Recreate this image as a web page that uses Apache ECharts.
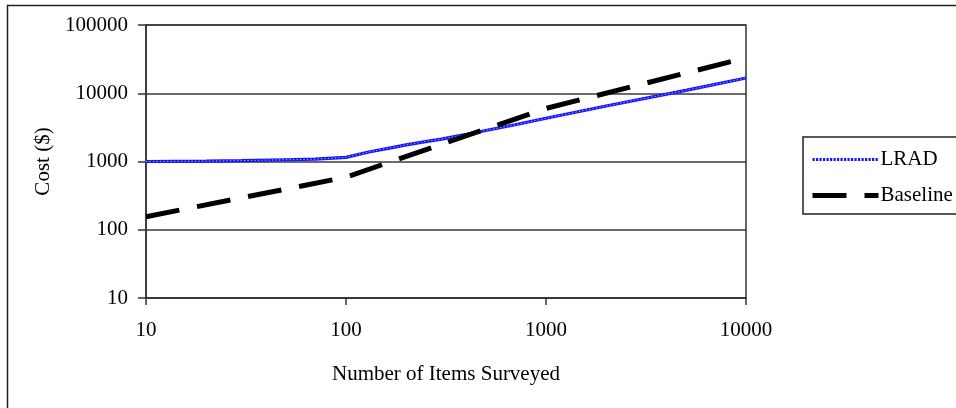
<!DOCTYPE html>
<html>
<head>
<meta charset="utf-8">
<script src="https://cdn.jsdelivr.net/npm/echarts@6/dist/echarts.min.js"></script>
<style>
  html, body { margin: 0; padding: 0; background: #fff; }
  #chart { width: 956px; height: 408px; }
</style>
</head>
<body>
<div id="chart"></div>
<script>
// Survey cost versus number of items surveyed (log-log)
const lradItems = [10, 20, 30, 50, 70, 100, 130, 170, 200, 250, 300, 400, 500, 700, 1000, 2000, 5000, 10000];
const lradCost  = [1000, 1010, 1030, 1060, 1080, 1150, 1380, 1600, 1750, 1960, 2130, 2500, 2850, 3450, 4300, 6500, 11000, 16700];

const baselineItems = [10, 100, 1000, 10000];
const baselineCost  = [155, 590, 6000, 33000];

const xTicks = [10, 100, 1000, 10000];
const yTicks = [10, 100, 1000, 10000, 100000];

const seriesNames = ['LRAD', 'Baseline'];
const xTitle = 'Number of Items Surveyed';
const yTitle = 'Cost ($)';

const FONT = '"Liberation Serif", "Times New Roman", serif';
const LRAD_BLUE = '#1414ff';
const pairs = (xs, ys) => xs.map((x, i) => [x, ys[i]]);
const plain = v => String(Math.round(v));

const chart = echarts.init(document.getElementById('chart'), null, { renderer: 'canvas' });

chart.setOption({
  animation: false,
  backgroundColor: '#ffffff',
  graphic: [
    {
      type: 'rect',
      shape: { x: 7.5, y: 5.5, width: 1200, height: 600 },
      style: { fill: 'none', stroke: '#222', lineWidth: 1.5 },
      silent: true
    }
  ],
  grid: {
    left: 146, right: 210, top: 25, bottom: 110,
    show: true,
    borderColor: '#333',
    borderWidth: 1.5,
    backgroundColor: 'transparent'
  },
  legend: {
    show: true,
    orient: 'vertical',
    left: 803,
    top: 137,
    padding: [12, 24, 8, 7],
    itemGap: 15,
    itemWidth: 66,
    itemHeight: 20,
    borderColor: '#222',
    borderWidth: 1.5,
    borderRadius: 0,
    textStyle: { fontFamily: FONT, fontSize: 21, color: '#000', padding: [0, 0, 0, -3] },
    data: [
      {
        name: seriesNames[0],
        itemStyle: { opacity: 0 },
        lineStyle: { width: 3, color: LRAD_BLUE, type: [2.2, 1.3] }
      },
      {
        name: seriesNames[1],
        itemStyle: { opacity: 0 },
        lineStyle: { width: 5, color: '#000', type: [34, 18] }
      }
    ]
  },
  xAxis: {
    type: 'log',
    logBase: 10,
    min: xTicks[0],
    max: xTicks[xTicks.length - 1],
    name: xTitle,
    nameLocation: 'middle',
    nameGap: 66,
    nameTextStyle: { fontFamily: FONT, fontSize: 21, color: '#000' },
    axisLine: { show: true, lineStyle: { color: '#333', width: 1.5 } },
    axisTick: { show: true, length: 7, lineStyle: { color: '#333', width: 1.5 } },
    axisLabel: { fontFamily: FONT, fontSize: 21, color: '#000', margin: 22, formatter: plain },
    splitLine: { show: false }
  },
  yAxis: {
    type: 'log',
    logBase: 10,
    min: yTicks[0],
    max: yTicks[yTicks.length - 1],
    name: yTitle,
    nameLocation: 'middle',
    nameGap: 90,
    nameTextStyle: { fontFamily: FONT, fontSize: 21, color: '#000' },
    axisLine: { show: true, lineStyle: { color: '#333', width: 1.5 } },
    axisTick: { show: true, length: 8, lineStyle: { color: '#333', width: 1.5 } },
    axisLabel: { fontFamily: FONT, fontSize: 21, color: '#000', margin: 18, formatter: plain },
    splitLine: { show: true, lineStyle: { color: '#3a3a3a', width: 1.5 } }
  },
  series: [
    {
      name: seriesNames[0],
      type: 'line',
      data: pairs(lradItems, lradCost),
      symbol: 'none',
      lineStyle: { color: LRAD_BLUE, width: 3.2 },
      z: 2
    },
    {
      // light beads inside the LRAD stroke
      name: seriesNames[0],
      type: 'line',
      data: pairs(lradItems, lradCost),
      symbol: 'none',
      lineStyle: { color: '#ffffff', width: 1, type: [1.2, 2.3], opacity: 0.7 },
      z: 3
    },
    {
      name: seriesNames[1],
      type: 'line',
      data: pairs(baselineItems, baselineCost),
      symbol: 'none',
      lineStyle: { color: '#000', width: 5, type: [34, 18], cap: 'butt' },
      z: 4
    }
  ]
});
</script>
</body>
</html>
